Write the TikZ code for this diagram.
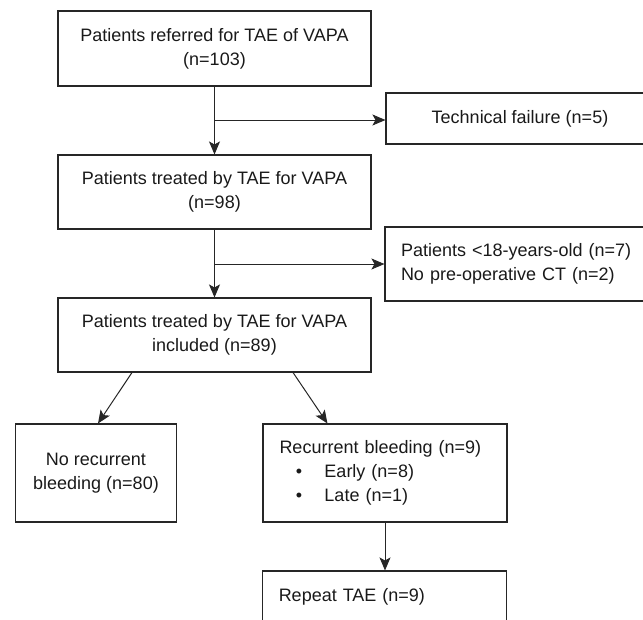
\documentclass[tikz,border=0pt]{standalone}
\usepackage{fontspec}
\setmainfont{Liberation Sans}
\usetikzlibrary{arrows.meta,calc}
\begin{document}
\begin{tikzpicture}[x=1pt,y=-1pt,
  box/.style={draw=black!85, line width=1.1pt, inner sep=0pt, font=\fontsize{18}{24}\selectfont, text=black!90},
  lbox/.style={box, align=left},
  cbox/.style={box, align=center},
  arr/.style={draw=black!85, line width=1pt, -{Stealth[length=13pt,width=11pt,inset=3pt]}}]
\useasboundingbox (0,0) rectangle (643,619);
\node[cbox, minimum width=313pt, minimum height=75pt] (b1) at (214.5,48.5) {Patients referred for TAE of VAPA\\(n=103)};
\node[cbox, minimum width=268pt, minimum height=51pt] (t1) at (520,118.5) {Technical failure (n=5)};
\node[cbox, minimum width=313pt, minimum height=74pt] (b2) at (214.5,192) {Patients treated by TAE for VAPA\\(n=98)};
\node[lbox, minimum width=270pt, minimum height=74pt, text width=238pt, inner xsep=16pt] (e2) at (520,264) {Patients <18-years-old (n=7)\\No pre-operative CT (n=2)};
\node[cbox, minimum width=313pt, minimum height=74pt] (b3) at (214.5,335) {Patients treated by TAE for VAPA\\included (n=89)};
\node[cbox, minimum width=161pt, minimum height=98pt] (b4) at (96,473) {No recurrent\\bleeding (n=80)};
\node[lbox, minimum width=244pt, minimum height=98pt, text width=211pt, inner xsep=16.5pt] (b5) at (385,473) {Recurrent bleeding (n=9)\\\hspace*{16.5pt}\makebox[6pt]{\textbullet}\hspace*{22.5pt}Early (n=8)\\\hspace*{16.5pt}\makebox[6pt]{\textbullet}\hspace*{22.5pt}Late (n=1)};
\node[lbox, minimum width=244pt, minimum height=52pt, text width=211pt, inner xsep=16.5pt] (b6) at (384.25,597) {Repeat TAE (n=9)};
\coordinate (j1) at (214.5,120);
\coordinate (j2) at (214.5,264);
\draw[arr] (b1.south) -- (b2.north);
\draw[arr] (j1) -- (j1 -| t1.west);
\draw[arr] (b2.south) -- (b3.north);
\draw[arr] (j2) -- (j2 -| e2.west);
\draw[arr] ($(b3.south west)+(74.5,0)$) -- ($(b4.north)+(2,0)$);
\draw[arr] ($(b3.south east)+(-78.5,0)$) -- ($(b5.north west)+(65,0)$);
\draw[arr] (b5.south) -- (b5.south |- b6.north);
\end{tikzpicture}
\end{document}
